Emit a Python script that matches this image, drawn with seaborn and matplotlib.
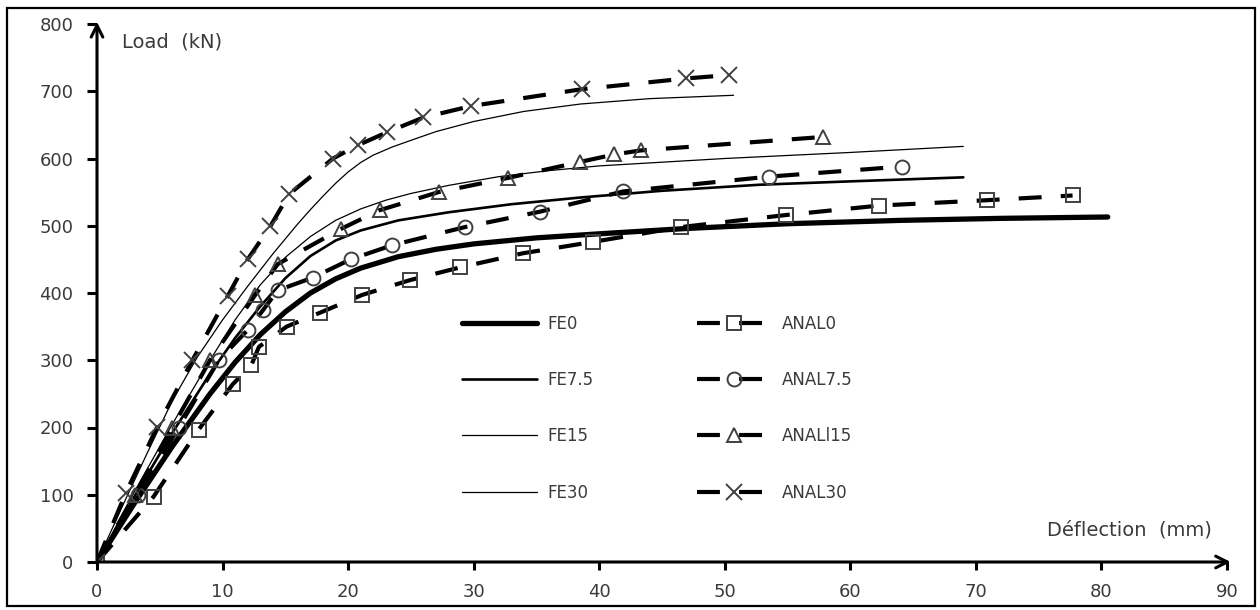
import numpy as np
import pandas as pd
import matplotlib
matplotlib.use("Agg")
import matplotlib.pyplot as plt
import seaborn as sns
from matplotlib.patches import Rectangle

# ---------------- data ----------------
fe0_x = [0, 3, 6, 9, 11, 13, 15, 17, 19, 21, 24, 27, 30, 35, 40, 47, 55, 64, 72, 80.5]
fe0_y = [0, 88, 172, 250, 297, 338, 372, 400, 421, 437, 454, 465, 473, 482, 488, 496, 503, 508, 511, 513]

fe75_x = [0, 3, 6, 9, 11, 13, 15, 17, 19, 21, 24, 28, 33, 38.5, 45, 52.8, 60, 69]
fe75_y = [0, 98, 192, 280, 333, 380, 422, 455, 478, 493, 508, 520, 532, 542, 552, 561, 566, 572]

fe15_x = [0, 3, 6, 9, 11, 13, 15, 17, 19, 21, 23, 25, 28, 32, 36, 40, 50, 60, 69]
fe15_y = [0, 105, 205, 300, 360, 412, 453, 484, 508, 525, 538, 548, 560, 573, 582, 589, 600, 609, 618]

fe30_x = [0, 2, 4, 6, 8, 10, 12, 14, 16, 17, 18, 19, 20, 21, 22, 23.5, 25, 27, 30, 34, 38.5, 44, 50.7]
fe30_y = [0, 82, 162, 240, 305, 360, 410, 458, 503, 524, 544, 563, 580, 594, 605, 617, 627, 640, 655, 670, 681, 689, 694]

anal0_x = [0, 4.5, 8.1, 10.8, 12.3, 12.9, 15.1, 17.8, 21.1, 24.9, 28.9, 33.9, 39.5, 46.5, 54.9, 62.3, 70.9, 77.7]
anal0_y = [0, 97, 197, 264, 293, 320, 350, 371, 397, 419, 438, 459, 476, 498, 516, 530, 538, 545]

anal75_x = [0, 3.3, 6.5, 9.7, 12.0, 13.2, 14.4, 17.2, 20.2, 23.5, 29.3, 35.3, 41.9, 53.5, 64.1]
anal75_y = [0, 100, 200, 300, 345, 374, 404, 423, 450, 471, 498, 521, 551, 573, 588]

anal15_x = [0, 3, 6, 9, 12.6, 14.4, 19.4, 22.5, 27.2, 32.7, 38.5, 41.2, 43.3, 57.8]
anal15_y = [0, 100, 200, 300, 397, 443, 495, 523, 550, 571, 595, 606, 612, 632]

anal30_x = [0, 2.3, 4.8, 7.6, 10.4, 12.0, 13.8, 15.3, 18.8, 20.8, 23.1, 26.0, 29.8, 38.6, 46.9, 50.3]
anal30_y = [0, 103, 201, 300, 395, 450, 499, 547, 600, 620, 639, 661, 678, 703, 719, 724]

fe_labels = ["FE0", "FE7.5", "FE15", "FE30"]
anal_labels = ["ANAL0", "ANAL7.5", "ANALl15", "ANAL30"]

x_ticks = list(range(0, 91, 10))
y_ticks = list(range(0, 801, 100))

# ---------------- style ----------------
sns.set_theme(style="white")
plt.rcParams["font.family"] = ["DejaVu Sans"]
TXT = "#3a3a3a"

fig = plt.figure(figsize=(12.6, 6.1), dpi=100)
ax = fig.add_axes([97 / 1260, (610 - 562) / 610, 1130 / 1260, 538 / 610])

fe_series = [(fe0_x, fe0_y, 3.8), (fe75_x, fe75_y, 1.9), (fe15_x, fe15_y, 0.9), (fe30_x, fe30_y, 0.9)]
for (xs, ys, lw), lab in zip(fe_series, fe_labels):
    df = pd.DataFrame({"x": xs, "y": ys})
    sns.lineplot(data=df, x="x", y="y", ax=ax, color="black", lw=lw,
                 estimator=None, sort=False, label=lab, legend=False)

dash = (0, (5.5, 4.6))
anal_series = [(anal0_x, anal0_y, "s", 10), (anal75_x, anal75_y, "o", 10),
               (anal15_x, anal15_y, "^", 10.5), (anal30_x, anal30_y, "x", 12)]
for (xs, ys, mk, ms), lab in zip(anal_series, anal_labels):
    df = pd.DataFrame({"x": xs, "y": ys})
    sns.lineplot(data=df, x="x", y="y", ax=ax, color="black", lw=3.0,
                 linestyle=dash, marker=mk, markersize=ms, mfc="none",
                 mec="#404040", mew=1.4, estimator=None, sort=False,
                 label=lab, legend=False)

ax.set_xlim(0, 90)
ax.set_ylim(0, 800)
ax.set_xticks(x_ticks)
ax.set_yticks(y_ticks)
ax.set_xlabel("")
ax.set_ylabel("")
for s in ax.spines.values():
    s.set_visible(False)
ax.grid(False)
ax.set_facecolor("none")
ax.tick_params(axis="y", direction="out", length=7, width=2.2, color="black",
               labelsize=13, labelcolor=TXT, pad=10, left=True)
ax.tick_params(axis="x", direction="out", length=6, width=2.2, color="black",
               labelsize=13, labelcolor=TXT, pad=9, bottom=True)

# axes with arrows
ax.annotate("", xy=(90.3, 0), xytext=(0, 0), annotation_clip=False,
            arrowprops=dict(arrowstyle="->,head_length=0.7,head_width=0.35", lw=2.2,
                            color="black", shrinkA=0, shrinkB=0))
ax.annotate("", xy=(0, 803), xytext=(0, 0), annotation_clip=False,
            arrowprops=dict(arrowstyle="->,head_length=0.7,head_width=0.35", lw=2.2,
                            color="black", shrinkA=0, shrinkB=0))

ax.text(2.0, 773, "Load  (kN)", fontsize=14, color=TXT, va="center", ha="left")
ax.text(88.8, 48, "Déflection  (mm)", fontsize=14, color=TXT, va="center", ha="right")

leg = ax.legend(ncol=2, loc="center", bbox_to_anchor=(0.496, 0.286), frameon=False,
                fontsize=12, handlelength=4.5, handletextpad=0.6, columnspacing=6.2,
                labelspacing=2.3, numpoints=1)
for t in leg.get_texts():
    t.set_color(TXT)

# figure frame
fig.patches.append(Rectangle((7 / 1260, 4 / 610), 1248 / 1260, 598 / 610,
                             transform=fig.transFigure, fill=False,
                             edgecolor="black", lw=1.6))

fig.savefig("out.png", dpi=100)
